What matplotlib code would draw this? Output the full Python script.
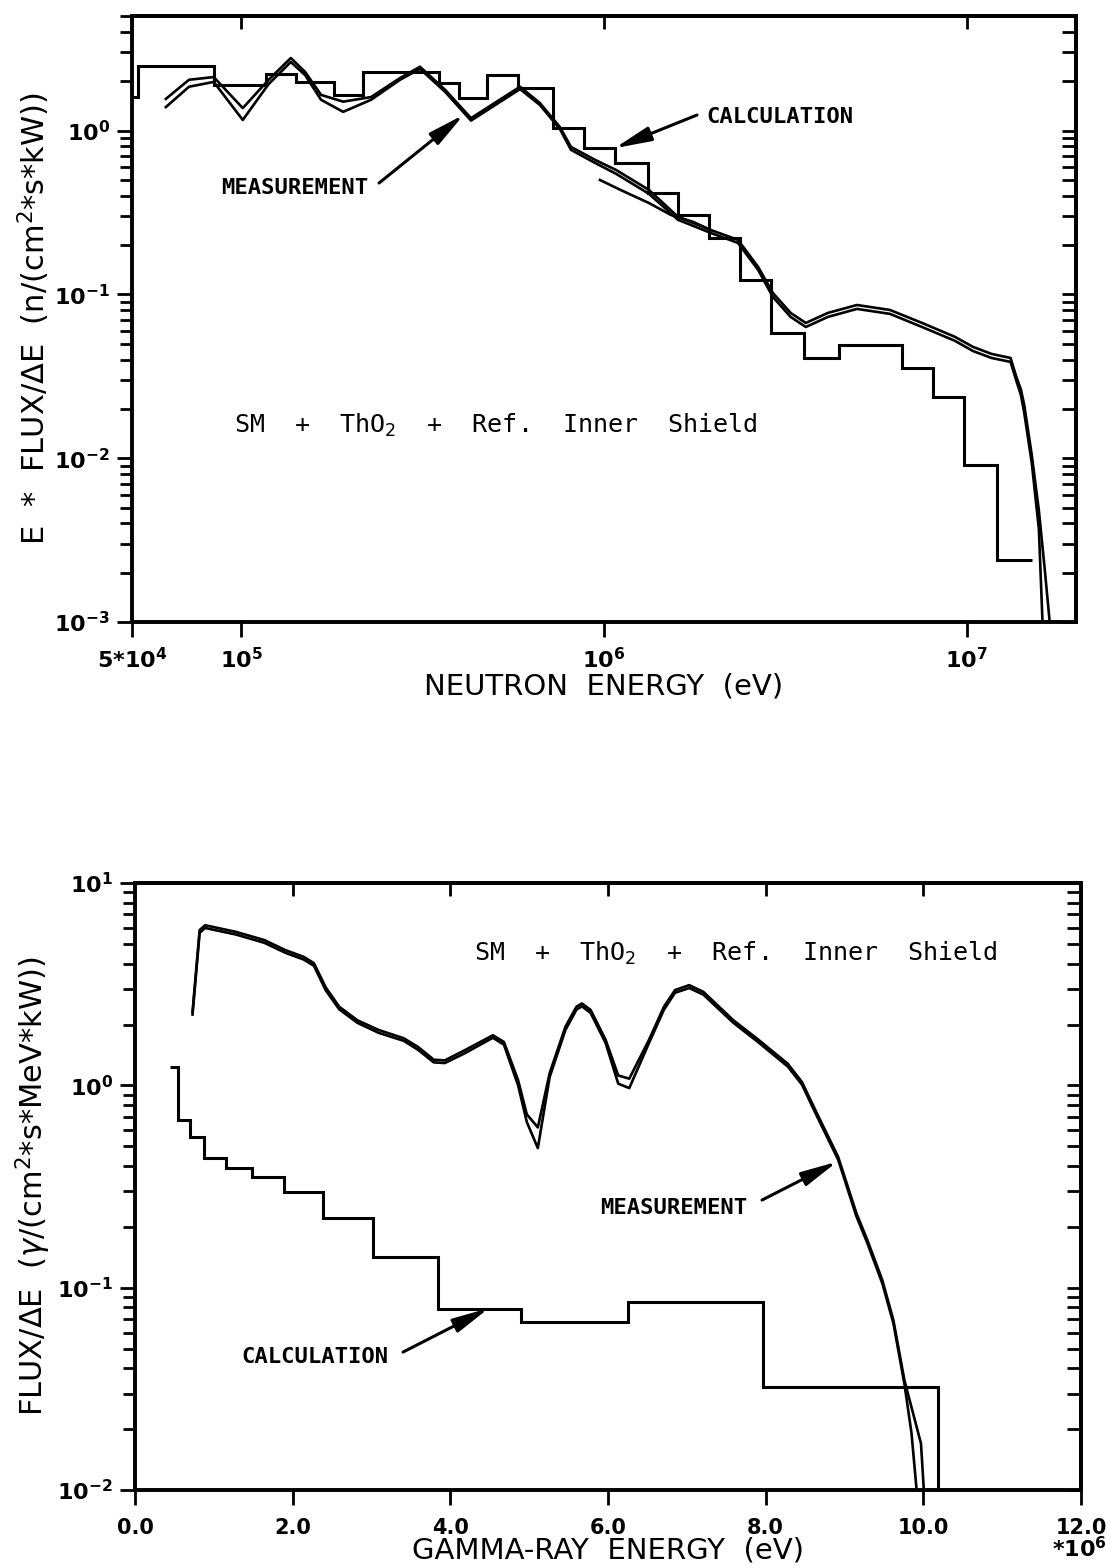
import numpy as np
import matplotlib.pyplot as plt
from matplotlib.ticker import FixedLocator, FixedFormatter, NullFormatter, LogLocator, NullLocator

plt.rcParams['font.family'] = ['DejaVu Sans']
plt.rcParams['mathtext.fontset'] = 'dejavusans'

# ---------------- neutron spectrum ----------------
# calculated group values (bin edges in eV)
n_edges = [5.0e4, 5.18e4, 8.43e4, 1.17e5, 1.42e5, 1.80e5, 2.16e5, 3.51e5, 3.98e5,
           4.77e5, 5.79e5, 7.22e5, 8.79e5, 1.07e6, 1.32e6, 1.60e6, 1.95e6, 2.37e6,
           2.89e6, 3.56e6, 4.43e6, 6.64e6, 8.08e6, 9.84e6, 1.21e7, 1.51e7]
n_calc = [1.6, 2.46, 1.90, 2.2, 1.99, 1.65, 2.29, 1.95, 1.58, 2.19, 1.81, 1.04,
          0.78, 0.63, 0.416, 0.305, 0.221, 0.122, 0.058, 0.041, 0.049, 0.0356,
          0.0236, 0.0091, 0.0024]

# measured spectra (two unfoldings)
n_meas1_e = [6.2e4, 7.18e4, 8.4e4, 1.01e5, 1.19e5, 1.37e5, 1.5e5, 1.66e5, 1.91e5,
             2.28e5, 2.74e5, 3.11e5, 3.65e5, 4.3e5, 5.87e5, 6.66e5, 7.56e5, 8.11e5,
             9.45e5, 1.08e6, 1.33e6, 1.6e6, 1.97e6, 2.34e6, 2.66e6, 2.92e6, 3.27e6,
             3.6e6, 4.14e6, 4.98e6, 6.14e6, 7.53e6, 9.28e6, 1.04e7, 1.17e7, 1.32e7,
             1.37e7, 1.41e7, 1.44e7, 1.51e7, 1.58e7, 1.64e7, 1.70e7]
n_meas1 = [1.56, 2.04, 2.12, 1.37, 2.04, 2.77, 2.28, 1.65, 1.50, 1.60, 2.09, 2.45,
           1.77, 1.19, 1.85, 1.47, 1.05, 0.794, 0.662, 0.574, 0.434, 0.297, 0.247,
           0.215, 0.147, 0.102, 0.077, 0.0669, 0.077, 0.0861, 0.0803, 0.0669, 0.055,
           0.0478, 0.0433, 0.0409, 0.0313, 0.0262, 0.0211, 0.0105, 0.0048, 0.0021, 0.0009]
n_meas2_e = [6.2e4, 7.18e4, 8.4e4, 1.01e5, 1.19e5, 1.37e5, 1.5e5, 1.66e5, 1.91e5,
             2.28e5, 2.74e5, 3.11e5, 3.65e5, 4.3e5, 5.87e5, 6.66e5, 7.56e5, 8.11e5,
             9.45e5, 1.08e6, 1.33e6, 1.6e6, 1.97e6, 2.34e6, 2.66e6, 2.92e6, 3.27e6,
             3.6e6, 4.14e6, 4.98e6, 6.14e6, 7.53e6, 9.28e6, 1.04e7, 1.17e7, 1.32e7,
             1.37e7, 1.41e7, 1.44e7, 1.51e7, 1.58e7, 1.62e7]
n_meas2 = [1.39, 1.85, 1.98, 1.16, 1.92, 2.62, 2.18, 1.54, 1.30, 1.54, 2.04, 2.38,
           1.72, 1.15, 1.79, 1.43, 1.02, 0.762, 0.634, 0.544, 0.411, 0.285, 0.237,
           0.206, 0.141, 0.0964, 0.0728, 0.0632, 0.0728, 0.0815, 0.076, 0.0632, 0.052,
           0.0451, 0.0409, 0.0387, 0.0296, 0.0243, 0.0189, 0.0094, 0.0037, 0.0009]
# high-energy detector run, starts at 1 MeV
n_meas3_e = [9.75e5, 1.11e6, 1.33e6, 1.53e6, 1.76e6, 1.97e6]
n_meas3 = [0.499, 0.434, 0.361, 0.305, 0.277, 0.247]

n_xticks = [5e4, 1e5, 1e6, 1e7]
n_xlabels = [r'$\mathbf{5{*}10^{4}}$', r'$\mathbf{10^{5}}$', r'$\mathbf{10^{6}}$', r'$\mathbf{10^{7}}$']
n_yticks = [1e-3, 1e-2, 1e-1, 1e0]
n_ylabels = [r'$\mathbf{10^{-3}}$', r'$\mathbf{10^{-2}}$', r'$\mathbf{10^{-1}}$', r'$\mathbf{10^{0}}$']

# ---------------- gamma spectrum ----------------
# energies in units of 1e6 eV
g_edges = [0.44, 0.55, 0.70, 0.88, 1.16, 1.48, 1.89, 2.39, 3.02, 3.84, 4.90, 6.25,
           7.96, 10.19, 10.4]
g_calc = [1.235, 0.674, 0.557, 0.436, 0.389, 0.353, 0.298, 0.22, 0.142, 0.0789,
          0.0679, 0.0851, 0.0324, 1e-4]

g_meas1_e = [0.73, 0.82, 0.89, 1.28, 1.64, 1.91, 2.14, 2.27, 2.42, 2.59, 2.82, 3.09,
             3.41, 3.59, 3.79, 3.93, 4.18, 4.54, 4.68, 4.86, 4.97, 5.11, 5.26, 5.46,
             5.60, 5.67, 5.78, 5.97, 6.13, 6.27, 6.52, 6.71, 6.85, 7.03, 7.21, 7.59,
             7.91, 8.28, 8.46, 8.65, 8.92, 9.15, 9.29, 9.48, 9.62, 9.76, 9.97, 10.01]
g_meas1 = [2.31, 5.86, 6.19, 5.74, 5.23, 4.66, 4.32, 4.02, 3.05, 2.45, 2.10, 1.88,
           1.71, 1.55, 1.34, 1.33, 1.49, 1.77, 1.64, 1.06, 0.72, 0.62, 1.15, 1.95,
           2.45, 2.54, 2.36, 1.68, 1.12, 1.08, 1.68, 2.45, 2.96, 3.13, 2.90, 2.10,
           1.68, 1.28, 1.04, 0.728, 0.443, 0.234, 0.172, 0.109, 0.0692, 0.0349, 0.017,
           0.0095]
g_meas2_e = [0.73, 0.82, 0.89, 1.28, 1.64, 1.91, 2.14, 2.27, 2.42, 2.59, 2.82, 3.09,
             3.41, 3.59, 3.79, 3.93, 4.18, 4.54, 4.68, 4.86, 4.97, 5.11, 5.26, 5.46,
             5.60, 5.67, 5.78, 5.97, 6.13, 6.27, 6.52, 6.71, 6.85, 7.03, 7.21, 7.59,
             7.91, 8.28, 8.46, 8.65, 8.92, 9.15, 9.29, 9.48, 9.62, 9.76, 9.85, 9.92]
g_meas2 = [2.24, 5.68, 6.0, 5.57, 5.07, 4.52, 4.19, 3.90, 2.95, 2.38, 2.04, 1.82,
           1.66, 1.50, 1.30, 1.29, 1.44, 1.72, 1.59, 1.00, 0.66, 0.49, 1.10, 1.88,
           2.37, 2.46, 2.28, 1.62, 1.02, 0.97, 1.62, 2.37, 2.87, 3.03, 2.81, 2.04,
           1.63, 1.24, 1.01, 0.705, 0.429, 0.226, 0.166, 0.105, 0.0668, 0.0335, 0.0191,
           0.0095]

g_xticks = [0, 2, 4, 6, 8, 10, 12]
g_xlabels = ['0.0', '2.0', '4.0', '6.0', '8.0', '10.0', '12.0']
g_yticks = [1e-2, 1e-1, 1e0, 1e1]
g_ylabels = [r'$\mathbf{10^{-2}}$', r'$\mathbf{10^{-1}}$', r'$\mathbf{10^{0}}$', r'$\mathbf{10^{1}}$']

title_txt = r'SM  +  ThO$_2$  +  Ref.  Inner  Shield'

LOG_MINOR = LogLocator(base=10, subs=(2, 3, 4, 5, 6, 7, 8, 9), numticks=30)


def style_frame(ax):
    for sp in ax.spines.values():
        sp.set_linewidth(2.8)
    ax.tick_params(which='both', direction='out', width=2.0, labelsize=16)
    ax.tick_params(which='major', length=11, pad=5)
    ax.tick_params(which='minor', length=9)


def inner_ticks(ax, xmajor, xminor, ymajor, yminor):
    # top and right ticks point into the frame
    sx = ax.secondary_xaxis('top')
    sx.xaxis.set_major_locator(FixedLocator(xmajor))
    sx.xaxis.set_minor_locator(xminor)
    sx.xaxis.set_major_formatter(NullFormatter())
    sx.xaxis.set_minor_formatter(NullFormatter())
    sx.tick_params(which='both', direction='in', width=2.0, length=9)
    sx.spines['top'].set_linewidth(2.8)
    sy = ax.secondary_yaxis('right')
    sy.yaxis.set_major_locator(FixedLocator(ymajor))
    sy.yaxis.set_minor_locator(yminor)
    sy.yaxis.set_major_formatter(NullFormatter())
    sy.yaxis.set_minor_formatter(NullFormatter())
    sy.tick_params(which='both', direction='in', width=2.0, length=10)
    sy.spines['right'].set_linewidth(2.8)


def arrow(ax, tip, tail):
    ax.annotate('', xy=tip, xycoords='data', xytext=tail, textcoords='axes fraction',
                arrowprops=dict(arrowstyle='-|>,head_length=1.1,head_width=0.22',
                                color='k', lw=2.2, shrinkA=0, shrinkB=0,
                                mutation_scale=20))


fig = plt.figure(figsize=(11.11, 15.68), dpi=100)

# ---- neutron panel ----
ax1 = fig.add_axes([0.1188, 0.6033, 0.8497, 0.3865])
ax1.set_xscale('log')
ax1.set_yscale('log')
ax1.set_xlim(5e4, 2e7)
ax1.set_ylim(1e-3, 5)
ax1.stairs(n_calc, n_edges, baseline=None, color='k', lw=2.2)
ax1.plot(n_meas1_e, n_meas1, color='k', lw=1.9)
ax1.plot(n_meas2_e, n_meas2, color='k', lw=1.9)
ax1.plot(n_meas3_e, n_meas3, color='k', lw=1.9)

ax1.xaxis.set_major_locator(FixedLocator(n_xticks))
ax1.xaxis.set_major_formatter(FixedFormatter(n_xlabels))
ax1.xaxis.set_minor_locator(LOG_MINOR)
ax1.xaxis.set_minor_formatter(NullFormatter())
ax1.yaxis.set_major_locator(FixedLocator(n_yticks))
ax1.yaxis.set_major_formatter(FixedFormatter(n_ylabels))
ax1.yaxis.set_minor_locator(LOG_MINOR)
ax1.yaxis.set_minor_formatter(NullFormatter())
style_frame(ax1)
ax1.tick_params(axis='x', which='major', pad=7)
inner_ticks(ax1, n_xticks, LOG_MINOR, n_yticks, LOG_MINOR)

ax1.set_xlabel('NEUTRON  ENERGY  (eV)', fontsize=21)
ax1.xaxis.set_label_coords(0.5, -0.107)
ax1.xaxis.label.set_va('center')
ax1.set_ylabel(r'E  *  FLUX/$\Delta$E  (n/(cm$^2$*s*kW))', fontsize=22)
ax1.yaxis.set_label_coords(-0.104, 0.5)
ax1.yaxis.label.set_va('center')

ax1.text(0.3856, 0.325, title_txt, transform=ax1.transAxes, ha='center', va='center',
         fontsize=18, family='DejaVu Sans Mono')
ax1.text(0.608, 0.833, 'CALCULATION', transform=ax1.transAxes, ha='left', va='center',
         fontsize=16, family='DejaVu Sans Mono', weight='bold')
arrow(ax1, (1.07e6, 0.78), (0.5985, 0.8366))
ax1.text(0.25, 0.716, 'MEASUREMENT', transform=ax1.transAxes, ha='right', va='center',
         fontsize=16, family='DejaVu Sans Mono', weight='bold')
arrow(ax1, (4.11e5, 1.25), (0.2617, 0.7244))

# ---- gamma panel ----
ax2 = fig.add_axes([0.1215, 0.0497, 0.8515, 0.3871])
ax2.set_yscale('log')
ax2.set_xlim(0, 12)
ax2.set_ylim(1e-2, 1e1)
ax2.stairs(g_calc, g_edges, baseline=None, color='k', lw=2.2)
ax2.plot(g_meas1_e, g_meas1, color='k', lw=1.9)
ax2.plot(g_meas2_e, g_meas2, color='k', lw=1.9)

ax2.xaxis.set_major_locator(FixedLocator(g_xticks))
ax2.xaxis.set_major_formatter(FixedFormatter(g_xlabels))
ax2.xaxis.set_minor_locator(NullLocator())
ax2.yaxis.set_major_locator(FixedLocator(g_yticks))
ax2.yaxis.set_major_formatter(FixedFormatter(g_ylabels))
ax2.yaxis.set_minor_locator(LOG_MINOR)
ax2.yaxis.set_minor_formatter(NullFormatter())
style_frame(ax2)
ax2.tick_params(axis='x', which='major', pad=9, labelsize=15)
for lbl in ax2.get_xticklabels():
    lbl.set_fontweight('bold')
inner_ticks(ax2, g_xticks[1:-1], NullLocator(), g_yticks, LOG_MINOR)

ax2.set_xlabel('GAMMA-RAY  ENERGY  (eV)', fontsize=21)
ax2.xaxis.set_label_coords(0.5, -0.099)
ax2.xaxis.label.set_va('center')
ax2.set_ylabel(r'FLUX/$\Delta$E  ($\gamma$/(cm$^2$*s*MeV*kW))', fontsize=22)
ax2.yaxis.set_label_coords(-0.108, 0.5)
ax2.yaxis.label.set_va('center')
ax2.text(1.027, -0.096, r'$\mathbf{*10^{6}}$', transform=ax2.transAxes, ha='right',
         va='center', fontsize=16)

ax2.text(0.6353, 0.8847, title_txt, transform=ax2.transAxes, ha='center', va='center',
         fontsize=18, family='DejaVu Sans Mono')
ax2.text(0.4915, 0.4646, 'MEASUREMENT', transform=ax2.transAxes, ha='left', va='center',
         fontsize=16, family='DejaVu Sans Mono', weight='bold')
arrow(ax2, (8.91, 0.42), (0.6628, 0.4778))
ax2.text(0.112, 0.2191, 'CALCULATION', transform=ax2.transAxes, ha='left', va='center',
         fontsize=16, family='DejaVu Sans Mono', weight='bold')
arrow(ax2, (4.49, 0.0793), (0.2833, 0.2273))

fig.savefig('out.png', dpi=100)
